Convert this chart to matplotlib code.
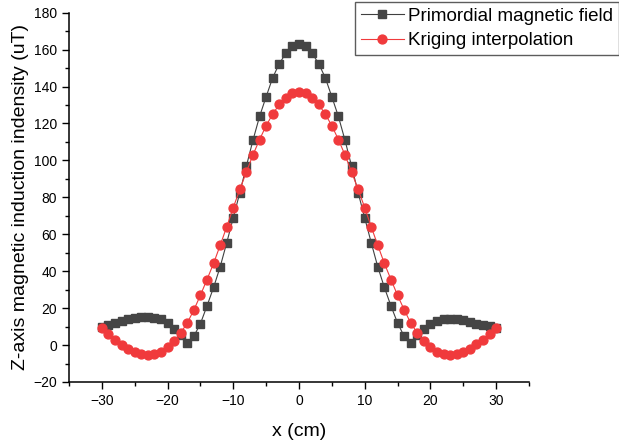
import numpy as np
import matplotlib as mpl
mpl.use('Agg')
import matplotlib.pyplot as plt
from matplotlib.ticker import MultipleLocator

mpl.rcParams['font.family'] = ['Liberation Sans', 'DejaVu Sans']

# sensor positions along the scan line (cm)
x = np.arange(-30, 31)

# measured Z component (uT)
primordial = [9.8, 11.1, 12.2, 13.1, 14.0, 14.7, 15.0, 15.0, 14.7, 14.0,
              12.0, 8.9, 5.5, 1.2, 4.8, 11.6, 21.2, 31.2, 42.3, 55.4,
              68.9, 82.6, 97.0, 111.0, 123.8, 134.5, 144.8, 152.4, 158.0, 162.0,
              163.3,
              162.0, 158.0, 152.4, 144.8, 134.5, 123.8, 111.0, 97.0, 82.6, 68.9,
              55.4, 42.3, 31.2, 21.2, 12.0, 4.8, 1.2, 5.5, 8.9, 11.6,
              13.1, 14.0, 14.3, 14.0, 13.4, 12.5, 11.6, 10.9, 10.2, 9.5]

# kriging estimate on the same grid (uT)
kriging = [9.5, 6.2, 3.0, 0.3, -1.9, -3.7, -5.0, -5.5, -5.0, -3.7,
           -1.0, 2.2, 6.6, 12.0, 19.0, 27.0, 35.5, 44.2, 54.0, 64.0,
           74.5, 84.3, 93.8, 103.0, 111.3, 118.8, 125.1, 130.3, 134.0, 136.3,
           137.0,
           136.3, 134.0, 130.3, 125.1, 118.8, 111.3, 103.0, 93.8, 84.3, 74.5,
           64.0, 54.0, 44.2, 35.5, 27.0, 19.2, 12.0, 6.6, 2.2, -1.0,
           -3.7, -5.0, -5.5, -5.0, -3.7, -1.9, 0.4, 3.0, 6.2, 9.5]

DPI = 100
fig = plt.figure(figsize=(619/DPI, 446/DPI), dpi=DPI)
ax = fig.add_axes([0.1115, 0.1435, 0.743, 0.828])

ax.plot(x, primordial, color="#404040", linewidth=0.8, marker="s", markersize=5.2,
        markerfacecolor="#454545", markeredgecolor="#454545", label="Primordial magnetic field", zorder=2)
ax.plot(x, kriging, color="#F03A3C", linewidth=0.8, marker="o", markersize=6.4,
        markerfacecolor="#F03A3C", markeredgecolor="#F03A3C", label="Kriging interpolation", zorder=3)

ax.set_xlim(-35, 35)
ax.set_ylim(-20, 180)
ax.xaxis.set_major_locator(MultipleLocator(10))
ax.xaxis.set_minor_locator(MultipleLocator(5))
ax.yaxis.set_major_locator(MultipleLocator(20))
ax.yaxis.set_minor_locator(MultipleLocator(10))
ax.tick_params(which='major', direction='out', length=5, width=1, labelsize=10)
ax.tick_params(which='minor', direction='out', length=3, width=1)

ax.spines['top'].set_visible(False)
ax.spines['right'].set_visible(False)
ax.spines['left'].set_linewidth(1.1)
ax.spines['bottom'].set_linewidth(1.1)

ax.set_xlabel("x (cm)", fontsize=14, labelpad=11)
ax.set_ylabel("Z-axis magnetic induction indensity (uT)", fontsize=14, labelpad=3)

leg = ax.legend(loc='upper left', bbox_to_anchor=(355/619, 1 - 2/446), bbox_transform=fig.transFigure,
                fontsize=13.5, frameon=True, fancybox=False, edgecolor='#333333', borderpad=0.3,
                handlelength=2.3, handletextpad=0.25, labelspacing=0.4, borderaxespad=0)
leg.get_frame().set_linewidth(1.0)

fig.savefig("out.png", dpi=DPI)
